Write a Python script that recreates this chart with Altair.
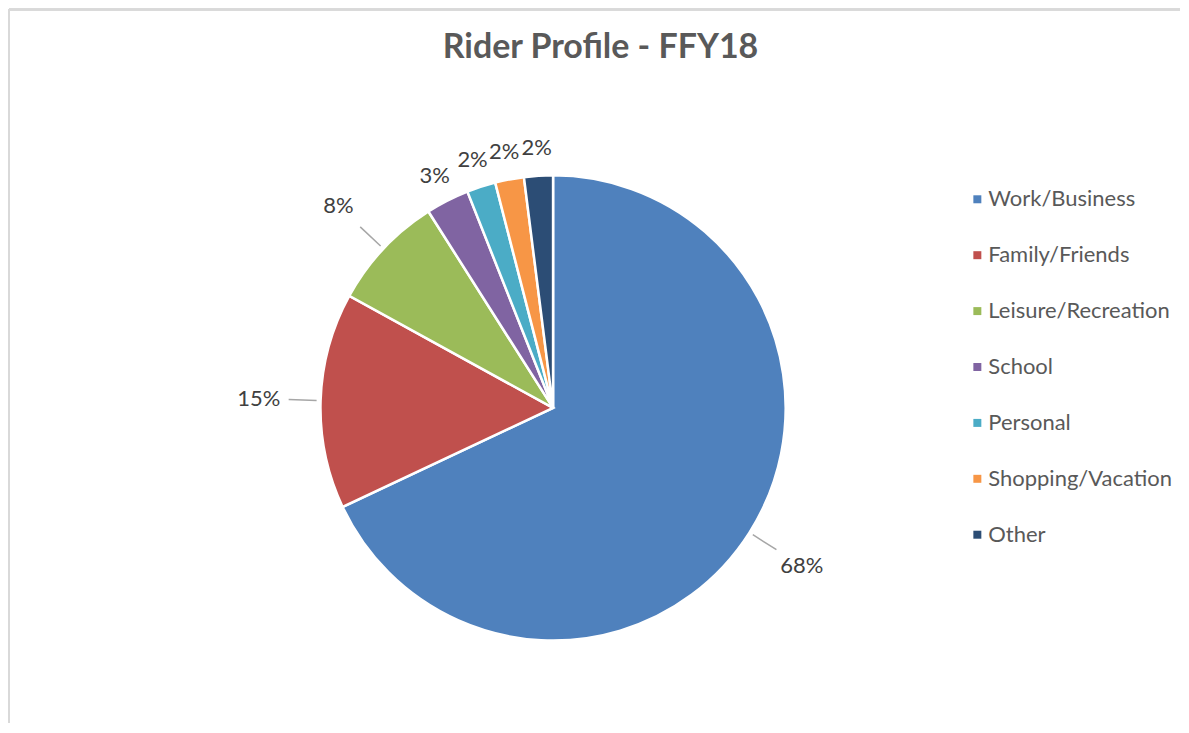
import altair as alt
import pandas as pd

# ---- data ----
categories = ["Work/Business", "Family/Friends", "Leisure/Recreation", "School",
              "Personal", "Shopping/Vacation", "Other"]
shares = [68, 15, 8, 3, 2, 2, 2]
colors = ["#4F81BD", "#C0504D", "#9BBB59", "#8064A2", "#4BACC6", "#F79646", "#2C4D75"]

df = pd.DataFrame({"category": categories, "share": shares,
                   "idx": list(range(len(categories)))})

# ---- layout constants (not data) ----
W, H = 1173, 714          # plot area (fits the window without scrolling)
CX, CY = 545, 399         # pie centre inside the plot area
R = 233                   # pie radius
FRAME = "#D9D9D9"

xs = alt.Scale(domain=[-CX, W - CX], nice=False, zero=False)
ys = alt.Scale(domain=[-(H - CY), CY], nice=False, zero=False)

base = (
    alt.Chart(df)
    .transform_window(cum="sum(share)", sort=[alt.SortField("idx")], frame=[None, 0])
    .transform_joinaggregate(total="sum(share)")
    .transform_calculate(
        mid="2*PI*(datum.cum - datum.share/2)/datum.total",
        lr=f"datum.share >= 5 ? {R + 62} : {R + 28}",
        lx="sin(datum.mid)*datum.lr",
        ly="cos(datum.mid)*datum.lr",
        ax=f"sin(datum.mid)*{R + 4}",
        ay=f"cos(datum.mid)*{R + 4}",
        bx=f"sin(datum.mid)*{R + 32}",
        by=f"cos(datum.mid)*{R + 32}",
        label="datum.share + '%'",
    )
)

pie = base.mark_arc(outerRadius=R, stroke="white", strokeWidth=2.5).encode(
    theta=alt.Theta("share:Q", stack=True),
    order=alt.Order("idx:Q"),
    color=alt.Color(
        "category:N",
        scale=alt.Scale(domain=categories, range=colors),
        legend=alt.Legend(
            title=None, orient="none", legendX=959, legendY=179,
            symbolType="square", symbolSize=64, symbolStrokeWidth=0,
            labelFont="Lato", labelFontSize=22, labelColor="#595959",
            labelOffset=0, rowPadding=34, padding=0, labelLimit=400,
        ),
    ),
    x=alt.XDatum(0, type="quantitative", scale=xs, axis=None),
    y=alt.YDatum(0, type="quantitative", scale=ys, axis=None),
)

leaders = base.transform_filter("datum.share >= 5").mark_rule(
    color="#A6A6A6", strokeWidth=1.5
).encode(
    x=alt.X("ax:Q", scale=xs, axis=None),
    y=alt.Y("ay:Q", scale=ys, axis=None),
    x2="bx:Q",
    y2="by:Q",
)

labels = base.mark_text(font="Lato", fontSize=22, color="#404040").encode(
    x=alt.X("lx:Q", scale=xs, axis=None),
    y=alt.Y("ly:Q", scale=ys, axis=None),
    text="label:N",
)

# chart frame: only the top and left edges fall inside the window
frame_top = alt.Chart(df).mark_rule(color=FRAME, strokeWidth=2).encode(
    x=alt.value(0), x2=alt.value(W), y=alt.value(0)
)
frame_left = alt.Chart(df).mark_rule(color=FRAME, strokeWidth=2).encode(
    x=alt.value(0), y=alt.value(0), y2=alt.value(H)
)

chart = (
    alt.layer(frame_top, frame_left, pie, leaders, labels)
    .properties(
        width=W, height=H, padding=0, background="white",
        title=alt.TitleParams(
            "Rider Profile - FFY18", font="Lato", fontSize=34, fontWeight="bold",
            color="#595959", anchor="middle", frame="group", baseline="alphabetic",
            offset=-83, dx=6,
        ),
    )
    .configure_view(stroke="transparent", strokeWidth=0)
)

chart.save("out.html", embed_options={"renderer": "svg", "actions": False})
